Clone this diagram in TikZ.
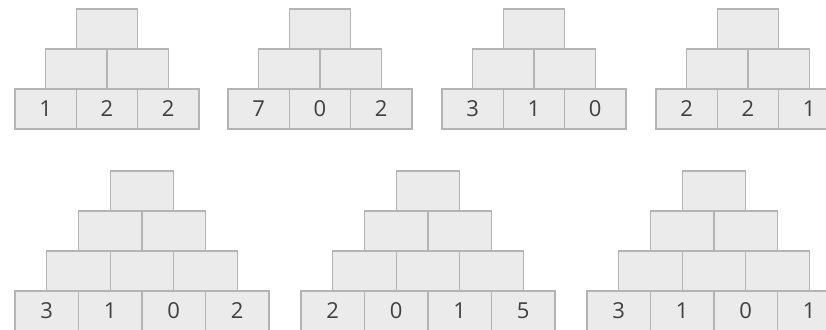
\documentclass[tikz,border=0pt]{standalone}
\usepackage{fontspec}
\setmainfont{Open Sans}
\definecolor{cellfill}{HTML}{EBEBEB}
\definecolor{celldraw}{HTML}{B4B4B4}
\definecolor{digit}{HTML}{404040}
\tikzset{cell/.style={draw=celldraw, fill=cellfill, line width=1.3pt,
  minimum height=40pt, inner sep=0pt, outer sep=0pt, anchor=north west,
  font=\fontsize{22}{22}\selectfont, text=digit}}
\newcommand{\pyramid}[6]{% name, left, top, cell width, rows, labels
  \foreach \r in {1,...,#5} {
    \ifnum\r<#5\relax
      \foreach \c in {1,...,\r} {
        \node[cell, minimum width=#4pt] (#1-\r-\c)
          at ({#2 + (#5-\r)*#4/2 + (\c-1)*#4}, {#3 + (\r-1)*40}) {};
      }
    \fi
  }
  \foreach \v [count=\c] in {#6} {
    \node[cell, minimum width=#4pt] (#1-#5-\c)
      at ({#2 + (\c-1)*#4}, {#3 + (#5-1)*40}) {\v};
  }
}
\begin{document}
\begin{tikzpicture}[x=1pt,y=-1pt]
\useasboundingbox (0,0) rectangle (826,329);
\clip (0,0) rectangle (826,329);
\pyramid{pa}{15}{9}{61.3}{3}{1,2,2}
\pyramid{pb}{228}{9}{61.3}{3}{7,0,2}
\pyramid{pc}{442}{9}{61.3}{3}{3,1,0}
\pyramid{pd}{656}{9}{61.3}{3}{2,2,1}
\pyramid{pe}{15}{171}{63.5}{4}{3,1,0,2}
\pyramid{pf}{301}{171}{63.5}{4}{2,0,1,5}
\pyramid{pg}{587}{171}{63.5}{4}{3,1,0,1}
\end{tikzpicture}
\end{document}
